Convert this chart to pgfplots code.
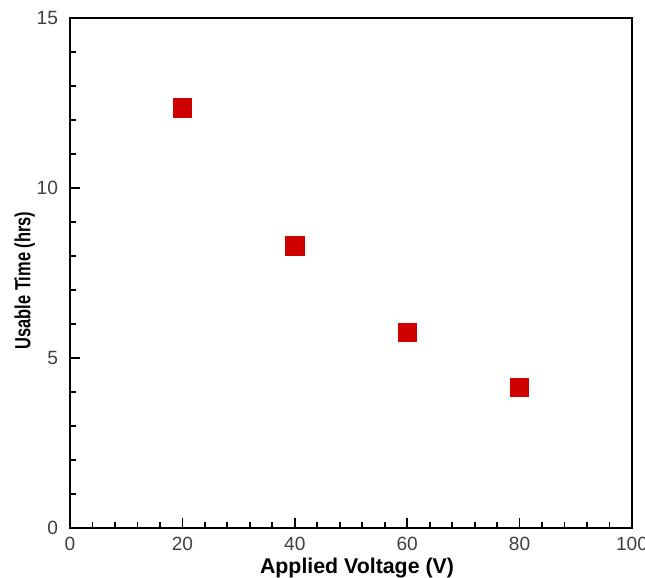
\documentclass[border=0pt]{standalone}
\usepackage{pgfplots}
\pgfplotsset{compat=1.18}
\usetikzlibrary{calc}
\usepackage{fontspec}
\setmainfont{Liberation Sans}
\definecolor{markred}{RGB}{206,0,0}

\begin{document}
\begin{tikzpicture}
  \begin{axis}[
      scale only axis,
      width=281bp, height=255bp,
      xmin=0, xmax=100, ymin=0, ymax=15,
      xtick={0,20,40,60,80,100},
      ytick={0,5,10,15},
      minor x tick num=4,
      minor y tick num=4,
      tick pos=left,
      tick align=inside,
      major tick length=5bp,
      minor tick length=3bp,
      axis line style={line width=1.1pt},
      every tick/.style={line width=0.9pt, black},
      /pgf/number format/assume math mode=true,
      ticklabel style={font=\fontsize{9.6}{11}\selectfont, text=black!75},
      yticklabel style={xshift=-2.5bp},
      xticklabel style={yshift=-1bp},
      xlabel={\textbf{Applied Voltage (V)}},
      ylabel={\textbf{Usable Time (hrs)}},
      xlabel style={font=\fontsize{10.7}{13}\selectfont, yshift=3bp, xshift=3bp},
      ylabel style={font=\fontsize{11}{13}\selectfont, xscale=0.75,
                    yshift=-6bp, xshift=-5bp},
    ]
    \coordinate (sw) at (rel axis cs:0,0);
    \coordinate (ne) at (rel axis cs:1,1);
    \addplot[only marks, mark=square*, mark size=4.6bp,
             mark options={draw=markred, fill=markred}]
      coordinates {(20,12.35) (40,8.3) (60,5.75) (80,4.13)};
  \end{axis}
  \pgfresetboundingbox
  \useasboundingbox ($(sw)+(-35bp,-25bp)$) rectangle ($(ne)+(6.5bp,9bp)$);
\end{tikzpicture}
\end{document}
